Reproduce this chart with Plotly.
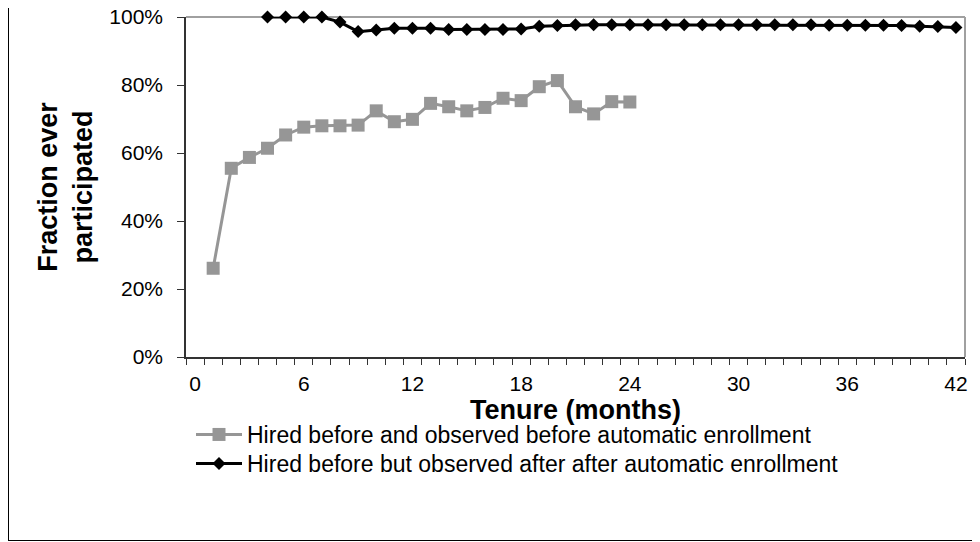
import plotly.graph_objects as go

# ---- data ----
months_before = list(range(1, 25))
frac_before = [0.261, 0.555, 0.587, 0.614, 0.653, 0.676, 0.680, 0.680, 0.682, 0.724,
               0.692, 0.699, 0.746, 0.736, 0.724, 0.734, 0.761, 0.754, 0.795, 0.813,
               0.736, 0.715, 0.751, 0.750]

months_after = list(range(4, 43))
frac_after = [1.000, 1.000, 1.000, 1.000, 0.985, 0.957, 0.962, 0.967, 0.967, 0.967,
              0.963, 0.963, 0.963, 0.963, 0.965, 0.973, 0.975, 0.977, 0.977, 0.977,
              0.977, 0.977, 0.977, 0.977, 0.977, 0.977, 0.977, 0.977, 0.977, 0.977,
              0.977, 0.976, 0.976, 0.976, 0.976, 0.975, 0.973, 0.972, 0.969]

x_tick_vals = [0, 6, 12, 18, 24, 30, 36, 42]
x_tick_text = ["0", "6", "12", "18", "24", "30", "36", "42"]
y_tick_vals = [0, 0.2, 0.4, 0.6, 0.8, 1.0]
y_tick_text = ["0%", "20%", "40%", "60%", "80%", "100%"]

name_before = "Hired before and observed before automatic enrollment"
name_after = "Hired before but observed after after automatic enrollment"

# ---- layout geometry (pixels, figure coordinates; page body adds an 8px offset) ----
W, H = 972, 534
L, R, T, B = 178, 15, 9, 185
pw, ph = W - L - R, H - T - B

def px_x(px):
    return (px - L) / pw

def px_y(py):
    return (H - B - py) / ph

FONT = "Arial, Liberation Sans, sans-serif"

fig = go.Figure()
fig.add_trace(go.Scatter(
    x=months_before, y=frac_before, name=name_before, mode="lines+markers",
    line=dict(color="#969696", width=3),
    marker=dict(symbol="square", size=13, color="#969696"),
    cliponaxis=False, legend="legend",
))
fig.add_trace(go.Scatter(
    x=months_after, y=frac_after, name=name_after, mode="lines+markers",
    line=dict(color="#000000", width=3),
    marker=dict(symbol="diamond", size=10, color="#000000"),
    cliponaxis=False, legend="legend2",
))

minor_ticks = [i - 0.5 for i in range(0, 44)]

legend_common = dict(
    xanchor="left", yanchor="top", itemwidth=46,
    font=dict(family=FONT, size=23, color="black"),
    bgcolor="rgba(0,0,0,0)",
)

fig.update_layout(
    width=W, height=H,
    margin=dict(l=L, r=R, t=T, b=B, autoexpand=False),
    paper_bgcolor="white", plot_bgcolor="white",
    font=dict(family=FONT, size=21, color="black"),
    showlegend=True,
    legend=dict(x=px_x(183), y=px_y(405), **legend_common),
    legend2=dict(x=px_x(183), y=px_y(434), **legend_common),
    xaxis=dict(
        range=[-0.5, 42.5], showgrid=False, zeroline=False,
        tickmode="array", tickvals=x_tick_vals, ticktext=x_tick_text,
        ticks="", ticklabelstandoff=7, ticklabeloverflow="allow",
        minor=dict(tickmode="array", tickvals=minor_ticks, ticks="outside",
                   ticklen=6, tickcolor="#333333", tickwidth=1.3, showgrid=False),
        showline=True, linecolor="#333333", linewidth=1.5,
        tickfont=dict(size=21),
        title=dict(text="<b>Tenure (months)</b>", font=dict(size=27), standoff=5),
    ),
    yaxis=dict(
        range=[0, 1], showgrid=False, zeroline=False,
        tickmode="array", tickvals=y_tick_vals, ticktext=y_tick_text,
        ticks="outside", ticklen=7, tickcolor="#333333", tickwidth=1.3,
        ticklabelstandoff=10, ticklabeloverflow="allow",
        showline=True, linecolor="#333333", linewidth=1.5,
        tickfont=dict(size=21),
        title=dict(text="<b>Fraction ever<br>participated</b>", font=dict(size=27), standoff=9),
    ),
    shapes=[
        dict(type="line", xref="paper", yref="paper", x0=0, x1=1, y0=1, y1=1,
             line=dict(color="#a0a0a0", width=2), layer="below"),
        dict(type="line", xref="paper", yref="paper", x0=1, x1=1, y0=0, y1=1,
             line=dict(color="#a0a0a0", width=2), layer="below"),
        dict(type="line", xref="paper", yref="paper", x0=px_x(0.5), x1=px_x(0.5),
             y0=px_y(532.5), y1=px_y(-2), line=dict(color="black", width=1)),
        dict(type="line", xref="paper", yref="paper", x0=px_x(0), x1=px_x(W + 2),
             y0=px_y(532.5), y1=px_y(532.5), line=dict(color="black", width=1)),
    ],
)

fig.write_html("out.html")
